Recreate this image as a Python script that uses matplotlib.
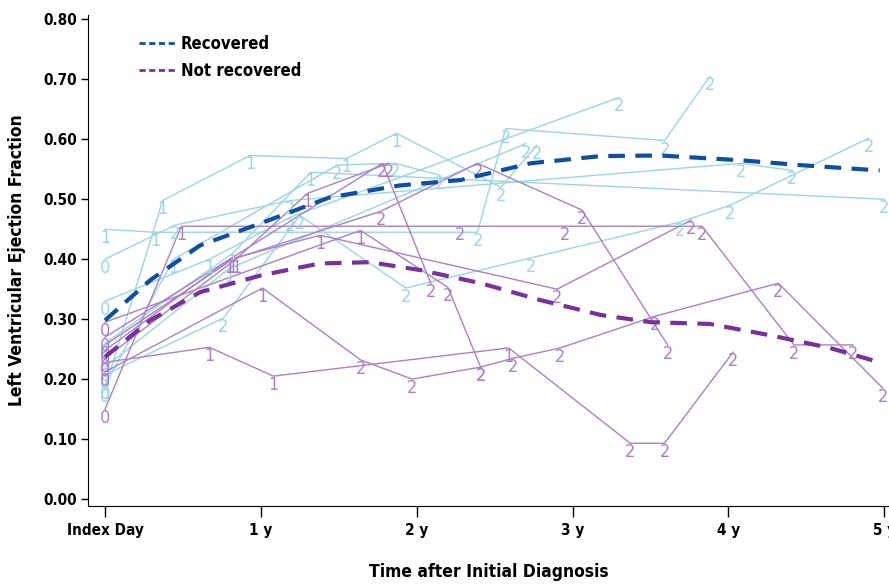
import matplotlib
matplotlib.use("Agg")
import matplotlib.pyplot as plt
from matplotlib.lines import Line2D

# individual patients - recovered (x in years after index day, y = LVEF)
rec_x = [
    [0, 0.32, 2.39, 2.57, 3.59, 3.88],
    [0, 0.37, 0.93, 1.55, 1.87, 2.54, 2.77],
    [0, 0.45, 1.19, 4.08, 4.41],
    [0, 0.82, 1.32, 5.0],
    [0, 0.76, 1.25, 1.93, 2.73, 3.69, 4.01, 4.90],
    [0, 0.67, 1.19, 3.30],
    [0, 0.80, 2.70],
    [0, 0.44, 1.49, 1.86, 2.15],
]
rec_y = [
    [0.45, 0.445, 0.445, 0.618, 0.598, 0.705],
    [0.185, 0.498, 0.573, 0.568, 0.61, 0.52, 0.59],
    [0.40, 0.457, 0.498, 0.56, 0.548],
    [0.26, 0.41, 0.545, 0.50],
    [0.207, 0.302, 0.473, 0.352, 0.402, 0.462, 0.49, 0.602],
    [0.33, 0.40, 0.47, 0.67],
    [0.22, 0.385, 0.593],
    [0.19, 0.40, 0.557, 0.56, 0.54],
]
rec_lab = [
    ['1', '1', '2', '2', '2', '2'],
    ['0', '1', '1', '1', '1', '2', '2'],
    ['0', '2', '2', '2', '2'],
    ['0', '1', '1', '2'],
    ['0', '2', '2', '2', '2', '2', '2', '2'],
    ['0', '1', '2', '2'],
    ['0', '1', '2'],
    ['0', '1', '2', '2', '2'],
]

# individual patients - not recovered
nrec_x = [
    [0, 0.49, 2.28, 2.95, 3.83, 4.42, 4.80],
    [0, 0.67, 1.08, 2.59, 3.37, 3.59, 4.03],
    [0, 1.01, 1.64, 1.97, 2.41, 2.62, 2.92, 3.53, 4.32, 4.99],
    [0, 0.80, 1.78, 2.09],
    [0, 1.64, 2.20, 2.41],
    [0, 0.82, 1.77, 2.39, 3.06, 3.61],
    [0, 0.84, 1.30, 1.82],
    [0, 0.80, 1.38, 2.90, 3.76],
]
nrec_y = [
    [0.15, 0.455, 0.455, 0.455, 0.455, 0.257, 0.257],
    [0.228, 0.253, 0.205, 0.252, 0.093, 0.093, 0.245],
    [0.212, 0.352, 0.232, 0.20, 0.22, 0.235, 0.252, 0.305, 0.36, 0.185],
    [0.248, 0.40, 0.56, 0.36],
    [0.295, 0.448, 0.353, 0.22],
    [0.257, 0.40, 0.48, 0.56, 0.482, 0.257],
    [0.235, 0.40, 0.51, 0.56],
    [0.27, 0.40, 0.44, 0.35, 0.465],
]
nrec_lab = [
    ['0', '1', '2', '2', '2', '2', '2'],
    ['0', '1', '1', '1', '2', '2', '2'],
    ['0', '1', '2', '2', '2', '2', '2', '2', '2', '2'],
    ['0', '1', '2', '2'],
    ['0', '1', '2', '2'],
    ['0', '1', '2', '2', '2', '2'],
    ['0', '1', '1', '2'],
    ['0', '1', '1', '2', '2'],
]

# smoothed group means
mean_x = [0, 0.29, 0.61, 1.0, 1.44, 1.89, 2.28, 2.73, 3.18, 3.56, 4.08, 4.46, 4.97]
mean_rec = [0.298, 0.365, 0.423, 0.46, 0.503, 0.523, 0.532, 0.56, 0.572, 0.573, 0.565, 0.557, 0.548]
mean_nx = [0, 0.29, 0.61, 1.0, 1.38, 1.7, 2.02, 2.41, 2.79, 3.18, 3.5, 3.88, 4.27, 4.65, 4.97]
mean_nrec = [0.237, 0.298, 0.345, 0.373, 0.393, 0.395, 0.382, 0.36, 0.332, 0.307, 0.295, 0.292, 0.273, 0.252, 0.228]

xticks = [0, 1, 2, 3, 4, 5]
xticklabels = ["Index Day", "1 y", "2 y", "3 y", "4 y", "5 y"]
yticks = [0.0, 0.1, 0.2, 0.3, 0.4, 0.5, 0.6, 0.7, 0.8]

light_blue = "#9dd4e6"
light_purple = "#a982c6"
dark_blue = "#0e4ea3"
dark_purple = "#77309c"

plt.rcParams['font.family'] = ['DejaVu Sans']
plt.rcParams['font.stretch'] = 'condensed'

fig = plt.figure(figsize=(8.89, 5.85), dpi=100)
ax = fig.add_axes([0.099, 0.135, 0.901, 0.839])

def draw_group(xs, ys, labs, color):
    for x, y, lab in zip(xs, ys, labs):
        ax.plot(x, y, color=color, lw=1.0, zorder=2)
        for xi, yi, li in zip(x, y, lab):
            ax.text(xi, yi, li, color=color, fontsize=13, ha='center', va='top',
                    fontweight='light', fontstretch='ultra-condensed',
                    zorder=3, clip_on=False)

draw_group(rec_x, rec_y, rec_lab, light_blue)
draw_group(nrec_x, nrec_y, nrec_lab, light_purple)

ax.plot(mean_x, mean_rec, color=dark_blue, lw=3, dashes=(4, 2.5), zorder=5)
ax.plot(mean_nx, mean_nrec, color=dark_purple, lw=3, dashes=(4, 2.5), zorder=5)

handles = [Line2D([], [], color=dark_blue, lw=2, dashes=(2.2, 1.3)),
           Line2D([], [], color=dark_purple, lw=2, dashes=(2.2, 1.3))]
ax.legend(handles, ["Recovered", "Not recovered"], loc='upper left',
          bbox_to_anchor=(0.045, 0.99), frameon=False, handlelength=2.2,
          handletextpad=0.3, labelspacing=0.55,
          prop={'weight': 'bold', 'size': 12, 'stretch': 'condensed'})

ax.set_xlim(-0.109, 5.03)
ax.set_ylim(-0.0117, 0.807)
ax.set_xticks(xticks)
ax.set_xticklabels(xticklabels)
ax.set_yticks(yticks)
ax.set_yticklabels([f"{v:.2f}" for v in yticks])
ax.spines['top'].set_visible(False)
ax.spines['right'].set_visible(False)
ax.spines['left'].set_bounds(-0.0117, 0.807)
ax.tick_params(axis='y', direction='out', length=5, width=1, labelsize=11, pad=3)
ax.tick_params(axis='x', direction='out', length=8, width=1, labelsize=11, pad=4)
for lab in ax.get_xticklabels() + ax.get_yticklabels():
    lab.set_fontweight('bold')

ax.set_xlabel("Time after Initial Diagnosis", fontsize=12.5, fontweight='bold', labelpad=18)
ax.set_ylabel("Left Ventricular Ejection Fraction", fontsize=12.5, fontweight='bold', labelpad=12)

fig.savefig("out.png", dpi=100)
